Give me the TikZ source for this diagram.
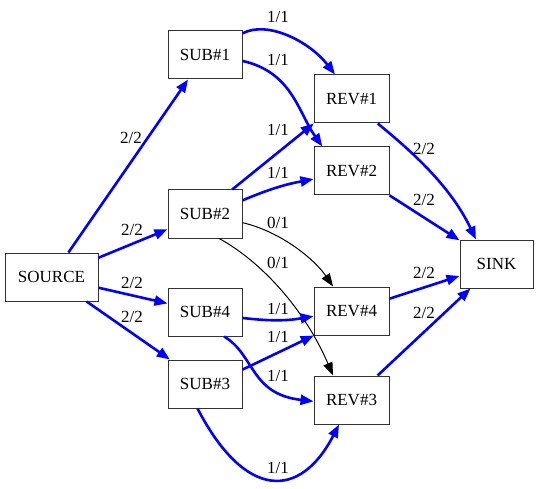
\documentclass[tikz,border=0pt]{standalone}
\usepackage{fontspec}
\setmainfont{Liberation Serif}
\usetikzlibrary{arrows.meta}
\begin{document}
\begin{tikzpicture}[x=1pt,y=-1pt,
  box/.style={draw=black!80,line width=1pt,fill=white,minimum height=48pt,inner sep=0pt,font=\fontsize{17}{20}\selectfont},
  subbox/.style={box,minimum width=74pt},
  revbox/.style={box,minimum width=75pt},
  lbl/.style={inner sep=0pt,font=\fontsize{17}{20}\selectfont},
  flow/.style={draw=blue,line width=2.6pt,-{Triangle[length=13pt,width=10pt]}},
  zero/.style={draw=black,line width=1pt,-{Triangle[length=13pt,width=9.5pt]}}]
\useasboundingbox (0,0) rectangle (538,489);
\node[box,minimum width=93pt] (src) at (51.5,277) {SOURCE};
\node[subbox] (sub1) at (205,55) {SUB\#1};
\node[subbox] (sub2) at (205,214) {SUB\#2};
\node[subbox] (sub4) at (205,312) {SUB\#4};
\node[subbox] (sub3) at (205,384) {SUB\#3};
\node[revbox] (rev1) at (351.5,99) {REV\#1};
\node[revbox] (rev2) at (351.5,171) {REV\#2};
\node[revbox] (rev4) at (351.5,311) {REV\#4};
\node[revbox] (rev3) at (351.5,400) {REV\#3};
\node[box,minimum width=73pt] (sink) at (496.5,264) {SINK};
% source edges
\draw[flow] (src) -- (sub1);
\draw[flow] (src) -- (sub2);
\draw[flow] (src) -- (sub4);
\draw[flow] (src) -- (sub3);
% sub -> rev
\draw[flow] (sub1.30) .. controls (268,20) and (310,42) .. (rev1.124);
\draw[flow] (sub1.-9) .. controls (292,72) and (298,112) .. (rev2.140);
\draw[flow] (sub2.42) -- (rev1.213);
\draw[flow] (sub2.20) to[bend left=6] (rev2.192);
\draw[zero] (sub2.-13) .. controls (282,232) and (315,260) .. (rev4.127);
\draw[zero] (sub2.-60) .. controls (262,262) and (305,310) .. (rev3.127);
\draw[flow] (sub4.-9) to[bend right=8] (rev4.188);
\draw[flow] (sub4.-52) .. controls (255,355) and (250,394) .. (rev3.182);
\draw[flow] (sub3.21) -- (rev4.213);
\draw[flow] (sub3.-107) .. controls (245,500) and (300,500) .. (rev3.-117);
% rev -> sink
\draw[flow] (rev1.-43) .. controls (410,150) and (450,185) .. (sink.130);
\draw[flow] (rev2) -- (sink);
\draw[flow] (rev4) -- (sink);
\draw[flow] (rev3) -- (sink);
% labels
\node[lbl] (l1) at (278,17) {1/1};
\node[lbl] (l2) at (278,60) {1/1};
\node[lbl] (l3) at (278,130) {1/1};
\node[lbl] (l4) at (278,173) {1/1};
\node[lbl] (l5) at (278,223) {0/1};
\node[lbl] (l6) at (278,263) {0/1};
\node[lbl] (l7) at (278,309) {1/1};
\node[lbl] (l8) at (278,337) {1/1};
\node[lbl] (l9) at (278,376) {1/1};
\node[lbl] (l10) at (278,468) {1/1};
\node[lbl] (s1) at (131,138) {2/2};
\node[lbl] (s2) at (132,230) {2/2};
\node[lbl] (s3) at (132,283) {2/2};
\node[lbl] (s4) at (132,317) {2/2};
\node[lbl] (k1) at (424,149) {2/2};
\node[lbl] (k2) at (424,200) {2/2};
\node[lbl] (k3) at (424,273) {2/2};
\node[lbl] (k4) at (424,313) {2/2};
\end{tikzpicture}
\end{document}
